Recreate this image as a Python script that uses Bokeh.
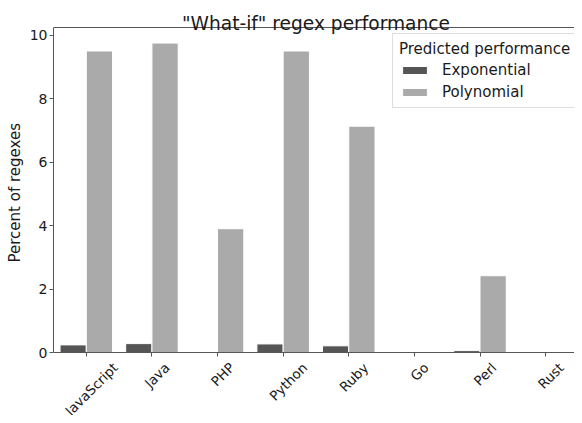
from bokeh.plotting import figure
from bokeh.models import (FixedTicker, LinearAxis, Range1d, Legend, LegendItem, ColumnDataSource,
                          Label, CustomLabelingPolicy, Title, Span)
from bokeh.embed import file_html
from bokeh.resources import INLINE

languages = ["JavaScript", "Java", "PHP", "Python", "Ruby", "Go", "Perl", "Rust"]
exponential = [0.24, 0.28, 0.0, 0.27, 0.21, 0.0, 0.06, 0.0]
polynomial = [9.5, 9.75, 3.9, 9.5, 7.13, 0.0, 2.42, 0.0]
y_ticks = [0, 2, 4, 6, 8, 10]
title_text = '"What-if" regex performance'
y_label_text = "Percent of regexes"

FONT = "DejaVu Sans"
TEXT = "#1a1a1a"
SPINE = "#555555"
idx = list(range(len(languages)))

# approximate DejaVu Sans advance widths (em) used to centre the rotated tick labels
_W = {"J": .295, "a": .613, "v": .592, "S": .635, "c": .550, "r": .411, "i": .278, "p": .635,
      "t": .392, "P": .603, "H": .752, "y": .592, "h": .634, "o": .612, "n": .634, "R": .695,
      "u": .634, "b": .635, "G": .775, "e": .615, "l": .278, "s": .521}
TICK_FS = 13.5

def label_offset(s):
    w = sum(_W.get(ch, .6) for ch in s) * TICK_FS
    h = 1.164 * TICK_FS
    return -(4 + 3 + (w + h) * 0.3536)

# layout (figure pixels)
FIG_W, FIG_H = 574, 415
BORDER_TOP = 1
AX_TOP_PX, AX_ZERO_PX = 27, 352   # rows of the top spine and of the baseline
Y_TOP = 10.24
PX = (AX_ZERO_PX - AX_TOP_PX) / Y_TOP
Y_START = -(FIG_H - AX_ZERO_PX) / PX
Y_END = Y_TOP + (AX_TOP_PX - BORDER_TOP) / PX
X_LO, X_HI = -0.5, 7.44

p = figure(width=FIG_W, height=FIG_H, output_backend="svg", toolbar_location=None,
           x_range=Range1d(X_LO, X_HI), y_range=Range1d(Y_START, Y_END),
           min_border_left=45, min_border_right=0, min_border_top=BORDER_TOP, min_border_bottom=0,
           x_axis_location=None)
p.outline_line_color = None
p.xgrid.grid_line_color = None
p.ygrid.grid_line_color = None

src_e = ColumnDataSource(dict(x=[i - 0.2 for i in idx], top=exponential))
src_p = ColumnDataSource(dict(x=[i + 0.2 for i in idx], top=polynomial))
r1 = p.vbar(x="x", top="top", bottom=0, width=0.4, source=src_e, fill_color="#555555", line_color="white", line_width=1)
r2 = p.vbar(x="x", top="top", bottom=0, width=0.4, source=src_p, fill_color="#aaaaaa", line_color="white", line_width=1)

hide_all = CustomLabelingPolicy(code="""
    const r = indices.clone()
    for (const i of indices) { r.unset(i) }
    return r
""")

# x axis: baseline at 0 with downward ticks, category names drawn as rotated labels
xax = LinearAxis(fixed_location=0, ticker=FixedTicker(ticks=idx), major_label_policy=hide_all,
                 major_label_text_font_size="0px", major_label_standoff=0, axis_label_standoff=0,
                 axis_line_color=SPINE, major_tick_line_color=SPINE, major_tick_in=4, major_tick_out=0,
                 minor_tick_line_color=None)
p.add_layout(xax, "above")

yax = p.yaxis[0]
yax.axis_line_color = SPINE
yax.major_tick_line_color = SPINE
yax.major_tick_out = 4
yax.major_tick_in = 0
yax.minor_tick_line_color = None
yax.major_label_text_font = FONT
yax.major_label_text_font_size = "14px"
yax.major_label_text_color = TEXT
yax.ticker = FixedTicker(ticks=y_ticks)
yax.bounds = (0, Y_TOP)
yax.major_label_standoff = 2

ylabel = Title(text=y_label_text, align="left", offset=153, text_font=FONT,
               text_font_size="15px", text_font_style="normal", text_color=TEXT, standoff=6)
p.add_layout(ylabel, "left")

p.add_layout(Span(location=Y_TOP, dimension="width", line_color=SPINE, line_width=1))

for i, name in zip(idx, languages):
    p.add_layout(Label(x=i, y=0, text=name, x_offset=5, y_offset=label_offset(name), angle=45,
                       angle_units="deg", text_align="center", text_baseline="middle", text_font=FONT,
                       text_font_size=f"{TICK_FS}px", text_color=TEXT))

p.add_layout(Label(x=(X_LO + 7.5) / 2, y=Y_TOP, y_offset=4, text=title_text, text_align="center",
                   text_baseline="alphabetic", text_font=FONT, text_font_size="18.6px", text_color=TEXT))

legend = Legend(items=[LegendItem(label="Exponential", renderers=[r1]),
                       LegendItem(label="Polynomial", renderers=[r2])],
                location=(339, 307))
legend.title = "Predicted performance"
legend.title_text_font = FONT
legend.title_text_font_size = "15px"
legend.title_text_font_style = "normal"
legend.title_text_color = TEXT
legend.label_text_font = FONT
legend.label_text_font_size = "15px"
legend.label_text_color = TEXT
legend.border_line_color = "#dddddd"
legend.border_line_alpha = 1
legend.background_fill_alpha = 0.8
legend.glyph_width = 31
legend.glyph_height = 10
legend.label_height = 18
legend.label_standoff = 12
legend.padding = 6
legend.spacing = 4
legend.margin = 0
legend.title_standoff = 3
p.add_layout(legend, "center")

open("out.html", "w").write(file_html(p, INLINE))
